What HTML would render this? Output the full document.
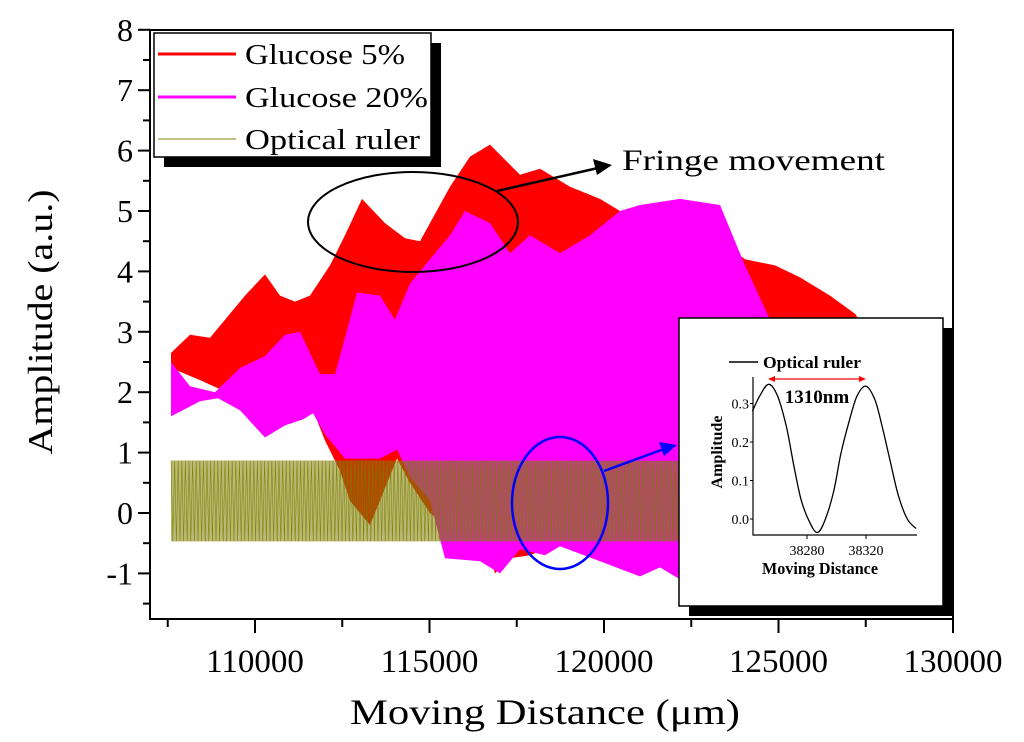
<!DOCTYPE html>
<html><head><meta charset="utf-8"><style>
html,body{margin:0;padding:0;background:#fff;}
svg{display:block;font-family:"Liberation Serif",serif;}
</style></head><body>
<svg id="chart" width="1024" height="742" viewBox="0 0 1024 742">
<g id="plot"></g>
<g id="axes"></g>
<g id="legend">
  <rect x="164" y="43" width="277" height="124" fill="#000"/>
  <rect x="154" y="33" width="277" height="124" fill="#fff" stroke="#000" stroke-width="1.5"/>
  <line x1="158" y1="54" x2="236" y2="54" stroke="#ff0000" stroke-width="3"/>
  <text x="245" y="64" font-size="29" textLength="160" lengthAdjust="spacingAndGlyphs">Glucose 5%</text>
  <line x1="158" y1="97" x2="236" y2="97" stroke="#ff00ff" stroke-width="3"/>
  <text x="245" y="107" font-size="29" textLength="183" lengthAdjust="spacingAndGlyphs">Glucose 20%</text>
  <line x1="158" y1="139" x2="236" y2="139" stroke="#808000" stroke-width="1"/>
  <text x="245" y="149" font-size="29" textLength="175" lengthAdjust="spacingAndGlyphs">Optical ruler</text>
</g>
<g id="annot">
  <ellipse cx="413" cy="222" rx="105" ry="50" fill="none" stroke="#000" stroke-width="2"/>
  <line x1="497" y1="191" x2="598" y2="168" stroke="#000" stroke-width="2.5"/>
  <polygon points="612,165 593,159 597,175" fill="#000"/>
  <text x="622" y="170" font-size="30" textLength="263" lengthAdjust="spacingAndGlyphs">Fringe movement</text>
  <ellipse cx="560" cy="503" rx="48" ry="66" fill="none" stroke="#0000ff" stroke-width="2.5"/>
  <line x1="604" y1="471" x2="664" y2="449" stroke="#0000ff" stroke-width="2.5"/>
  <polygon points="677,445 659,442 664,456" fill="#0000ff"/>
</g>
<g id="inset">
  <rect x="689" y="328" width="264" height="288" fill="#000"/>
  <rect x="679" y="318" width="264" height="288" fill="#fff" stroke="#000" stroke-width="1.5"/>
</g>
</svg>
<script>
// ---- main chart data ----
const redX = [107593,108138,108711,109140,109713,110287,110716,111146,111576,112149,112579,113066,113725,114298,114728,115587,116160,116733,117593,118166,119026,119885,120458,121031,122751,124040,124900,125616,126475,127192,127679];
const redUpper = [2.65,2.95,2.9,3.2,3.6,3.95,3.6,3.5,3.6,4.1,4.6,5.2,4.8,4.55,4.5,5.4,5.9,6.1,5.6,5.7,5.4,5.2,5.0,4.9,4.8,4.2,4.1,3.9,3.6,3.3,2.9];
const redLowX = [107593,108424,109570,110201,110487,111003,111662,112006,112436,112722,113295,114069,114441,115014,115874,116647,116877,117307,117880,118739,119885,122751,124470,127679];
const redLower = [2.4,2.2,1.9,1.3,1.4,1.8,1.7,1.2,0.7,0.2,-0.2,0.9,0.5,0.0,-0.4,-0.6,-1.0,-0.75,-0.7,-0.5,-0.6,-0.8,-0.5,0.5];
const magX = [107593,108138,108854,109570,110287,110860,111289,111862,112292,112579,112923,113582,114011,114441,115014,115587,116017,116733,117307,117880,118739,119599,120458,121031,122178,123324,124040,124756,125616,127622];
const magUpper = [2.5,2.1,2.0,2.4,2.6,2.95,3.0,2.3,2.3,2.9,3.65,3.6,3.2,3.8,4.2,4.6,5.0,4.8,4.3,4.6,4.3,4.6,5.0,5.1,5.2,5.1,4.1,3.2,2.8,2.3];
const magLowX = [107593,108424,108940,109570,110287,110860,111375,111662,112006,112579,113582,114069,114441,115014,115444,116447,117020,117593,118309,118739,119885,121031,121604,122178,124470,127622];
const magLower = [1.6,1.85,1.9,1.7,1.25,1.45,1.55,1.65,1.3,0.9,0.9,1.05,0.6,0.2,-0.75,-0.8,-1.0,-0.6,-0.7,-0.55,-0.8,-1.05,-0.9,-1.1,-0.8,0.8];
const oliveX = [107593,117500,127622];
const oliveUpper = [0.87,0.87,0.86];
const oliveLower = [-0.47,-0.47,-0.47];
const xTicks = [110000,115000,120000,125000,130000];
const yTicks = [-1,0,1,2,3,4,5,6,7,8];
// ---- inset data ----
const insetX = [38243,38248,38254,38260,38266,38271,38276,38282,38287,38292,38298,38303,38309,38314,38320,38326,38331,38337,38342,38348,38354];
const insetY = [0.28,0.32,0.35,0.32,0.24,0.14,0.05,-0.01,-0.035,-0.005,0.07,0.17,0.26,0.32,0.345,0.31,0.24,0.14,0.06,0.0,-0.025];
const insetXTicks = [38280,38320];
const insetYTicks = ["0.0","0.1","0.2","0.3"];

const NS="http://www.w3.org/2000/svg";
function X(v){return 255+(v-110000)*174.5/5000;}
function Y(v){return 513-v*60.4;}
function mk(tag,attrs,parent){const e=document.createElementNS(NS,tag);for(const k in attrs)e.setAttribute(k,attrs[k]);parent.appendChild(e);return e;}
function interp(xs,ys,v){if(v<=xs[0])return ys[0];for(let i=1;i<xs.length;i++){if(v<=xs[i]){const t=(v-xs[i-1])/(xs[i]-xs[i-1]);return ys[i-1]+t*(ys[i]-ys[i-1]);}}return ys[ys.length-1];}
function band(xu,yu,xl,yl){let d="M";for(let i=0;i<xu.length;i++)d+=(i?"L":"")+X(xu[i]).toFixed(1)+","+Y(yu[i]).toFixed(1);for(let i=xl.length-1;i>=0;i--)d+="L"+X(xl[i]).toFixed(1)+","+Y(yl[i]).toFixed(1);return d+"Z";}
const plot=document.getElementById('plot');
const red=mk('path',{d:band(redX,redUpper,redLowX,redLower),fill:'#ff0000'},plot);


const mag=mk('path',{d:band(magX,magUpper,magLowX,magLower),fill:'#ff00ff'},plot);


const oliveFill=mk('path',{d:band(oliveX,oliveUpper,oliveX,oliveLower),fill:'#808000','fill-opacity':'0.55'},plot);


// fringe texture between olive envelope
let zd="",up=true;
const x0=X(oliveX[0]),x1=X(oliveX[oliveX.length-1]);
for(let px=x0;px<=x1;px+=1.8){const v=110000+(px-255)*5000/174.5;const yy=up?Y(interp(oliveX,oliveUpper,v)):Y(interp(oliveX,oliveLower,v));zd+=(zd?"L":"M")+px.toFixed(1)+","+yy.toFixed(1);up=!up;}
const olive=mk('path',{d:zd,fill:'none',stroke:'#7a7a00','stroke-width':'0.6','stroke-opacity':'0.85'},plot);



// axes
const axes=document.getElementById('axes');
const frame=mk('path',{d:"M150,30L953,30L953,619M150,30L150,619L953,619",fill:'none',stroke:'#000','stroke-width':'2'},axes);


for(let v=107500;v<=130000;v+=2500){const major=(v%5000===0);const t=mk('line',{x1:X(v),x2:X(v),y1:619,y2:major?633:627,stroke:'#000','stroke-width':'2'},axes);

}
xTicks.forEach(v=>{const t=mk('text',{x:X(v),y:672,'font-size':'33','text-anchor':'middle'},axes);t.textContent=String(v);

});
for(let v=-1.5;v<=8;v+=0.5){const major=Number.isInteger(v);const t=mk('line',{x1:major?138:143,x2:150,y1:Y(v),y2:Y(v),stroke:'#000','stroke-width':'2'},axes);

}
yTicks.forEach(v=>{const t=mk('text',{x:133,y:Y(v)+11,'font-size':'32','text-anchor':'end'},axes);t.textContent=String(v);

});
const xt=mk('text',{x:545,y:724,'font-size':'36','text-anchor':'middle',textLength:'390',lengthAdjust:'spacingAndGlyphs'},axes);xt.textContent="Moving Distance (\u03bcm)";


const yt=mk('text',{x:0,y:0,'font-size':'35','text-anchor':'middle',transform:'translate(52,322) rotate(-90)',textLength:'265',lengthAdjust:'spacingAndGlyphs'},axes);yt.textContent="Amplitude (a.u.)";



// inset
const inset=document.getElementById('inset');
function IX(v){return 807+(v-38280)*59/40;}
function IY(v){return 519-v*385;}
const ia=mk('path',{d:"M753,377L753,535L917,535",fill:'none',stroke:'#000','stroke-width':'1.2'},inset);


insetYTicks.forEach(s=>{const v=parseFloat(s);const t=mk('line',{x1:750,x2:753,y1:IY(v),y2:IY(v),stroke:'#000'},inset);


const l=mk('text',{x:749,y:IY(v)+5,'font-size':'14','text-anchor':'end'},inset);l.textContent=s;

});
insetXTicks.forEach(v=>{const t=mk('line',{x1:IX(v),x2:IX(v),y1:535,y2:539,stroke:'#000'},inset);


const l=mk('text',{x:IX(v),y:555,'font-size':'14','text-anchor':'middle'},inset);l.textContent=String(v);

});
// smooth curve (catmull-rom)
const pts=insetX.map((v,i)=>[IX(v),IY(insetY[i])]);
let cd="M"+pts[0][0].toFixed(1)+","+pts[0][1].toFixed(1);
for(let i=0;i<pts.length-1;i++){const p0=pts[Math.max(0,i-1)],p1=pts[i],p2=pts[i+1],p3=pts[Math.min(pts.length-1,i+2)];
cd+="C"+(p1[0]+(p2[0]-p0[0])/6).toFixed(1)+","+(p1[1]+(p2[1]-p0[1])/6).toFixed(1)+" "+(p2[0]-(p3[0]-p1[0])/6).toFixed(1)+","+(p2[1]-(p3[1]-p1[1])/6).toFixed(1)+" "+p2[0].toFixed(1)+","+p2[1].toFixed(1);}
const ic=mk('path',{d:cd,fill:'none',stroke:'#000','stroke-width':'1.3'},inset);


const il=mk('line',{x1:729,x2:758,y1:362,y2:362,stroke:'#000','stroke-width':'1.5'},inset);


const ilt=mk('text',{x:763,y:368,'font-size':'17','font-weight':'bold',textLength:'98',lengthAdjust:'spacingAndGlyphs'},inset);ilt.textContent="Optical ruler";


const ra=mk('path',{d:"M772,379L862,379",stroke:'#ff0000','stroke-width':'1.2'},inset);


const rh=mk('path',{d:"M768,379L775,376L775,382ZM866,379L859,376L859,382Z",fill:'#ff0000'},inset);


const rt=mk('text',{x:817,y:403,'font-size':'19','font-weight':'bold','text-anchor':'middle'},inset);rt.textContent="1310nm";


const iyt=mk('text',{x:0,y:0,'font-size':'16','font-weight':'bold','text-anchor':'middle',transform:'translate(722,452) rotate(-90)'},inset);iyt.textContent="Amplitude";


const ixt=mk('text',{x:820,y:574,'font-size':'17','font-weight':'bold','text-anchor':'middle',textLength:'116',lengthAdjust:'spacingAndGlyphs'},inset);ixt.textContent="Moving Distance";


</script>
</body></html>
